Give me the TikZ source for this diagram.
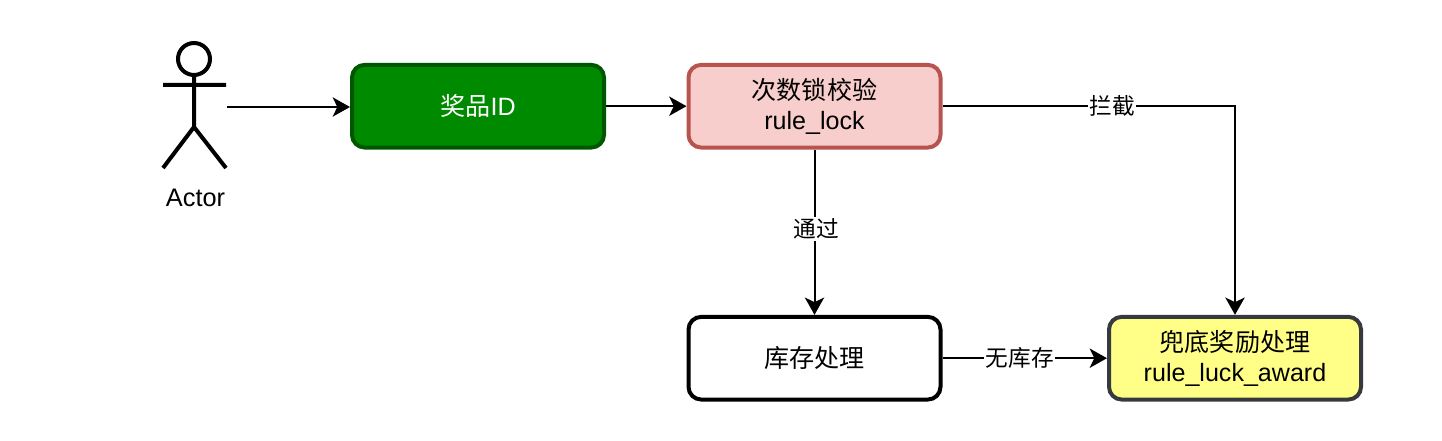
\documentclass[tikz,border=0pt]{standalone}
\usepackage{fontspec}
\setmainfont{Liberation Sans}
\newfontfamily\cjk{Noto Sans CJK SC}
\usetikzlibrary{arrows.meta,positioning}
\definecolor{gfill}{HTML}{008A00}
\definecolor{gline}{HTML}{005700}
\definecolor{pfill}{HTML}{F8CECC}
\definecolor{pline}{HTML}{B85450}
\definecolor{yfill}{HTML}{FFFF88}
\definecolor{yline}{HTML}{36393D}
\tikzset{
  box/.style={draw, rounded corners=9.5pt, line width=3pt, minimum width=189pt, minimum height=62pt,
    inner sep=0pt, align=center, font=\fontsize{18.8pt}{22.5pt}\selectfont, anchor=center},
  link/.style={draw=black, line width=1.5pt, -{Stealth[length=13pt,width=14.5pt,inset=3.5pt]}},
  lab/.style={fill=white, inner sep=1pt, font=\cjk\fontsize{17pt}{20pt}\selectfont},
  stick/.style={line width=3pt, draw=black}
}
\begin{document}
\begin{tikzpicture}[x=0.75pt,y=-0.75pt]
\useasboundingbox (0,0) rectangle (1442,441);
% actor
\draw[stick] (194,59) circle (16);
\draw[stick] (194,75) -- (194,127) (163,85) -- (226,85) (163,168) -- (194,127) -- (226,168);
\node[font=\fontsize{19pt}{22pt}\selectfont, inner sep=0pt] (actorlabel) at (195.5,198) {Actor};
\coordinate (actorout) at (227,107);
% boxes
\node[box, fill=gfill, draw=gline, text=white] (prize) at (478,106.2) {{\cjk 奖品}ID};
\node[box, fill=pfill, draw=pline] (lock) at (814.5,106.2) {{\cjk 次数锁校验}\\rule\_lock};
\node[box, fill=white, draw=black] (stock) at (814.5,358.2) {{\cjk 库存处理}};
\node[box, fill=yfill, draw=yline] (luck) at (1235,358.2) {{\cjk 兜底奖励处理}\\rule\_luck\_award};
% connectors
\draw[link] (actorout) -- (prize.west |- actorout);
\draw[link] (prize) -- (lock);
\draw[link] (lock) -- node[lab,pos=0.48,xshift=1.5pt]{通过} (stock);
\draw[link] (lock.east) -- node[lab,pos=0.58]{拦截} (luck.north |- lock.east) -- (luck.north);
\draw[link] (stock) -- node[lab,pos=0.47]{无库存} (luck);
\end{tikzpicture}
\end{document}
